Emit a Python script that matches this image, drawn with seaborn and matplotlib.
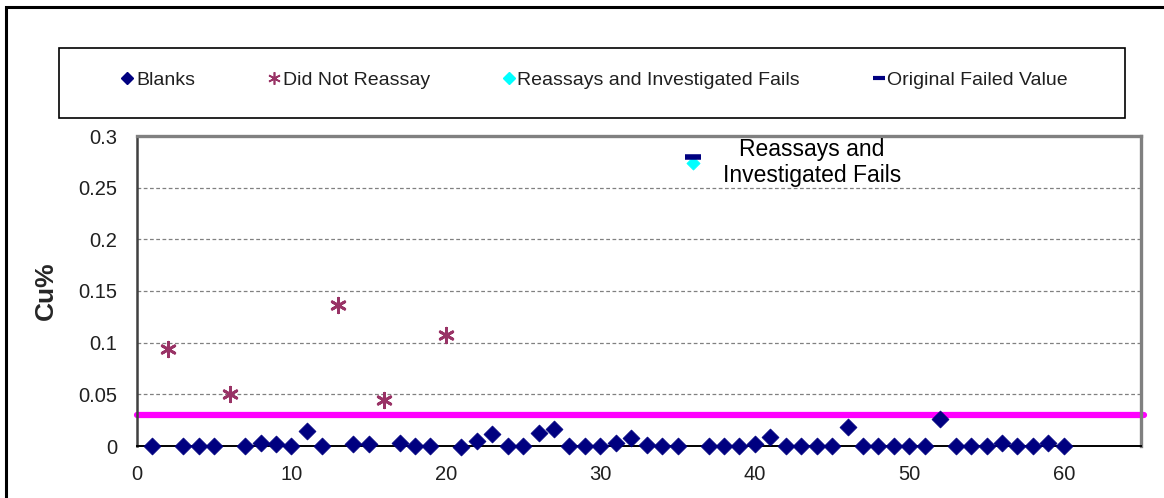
import matplotlib
matplotlib.use("Agg")
import matplotlib.pyplot as plt
from matplotlib.lines import Line2D
from matplotlib.patches import Rectangle
import pandas as pd
import seaborn as sns

# blank sample number vs Cu%
blank_ids = [1, 3, 4, 5, 7, 8, 9, 10, 11, 12, 14, 15, 17, 18, 19, 21, 22, 23, 24, 25,
             26, 27, 28, 29, 30, 31, 32, 33, 34, 35, 37, 38, 39, 40, 41, 42, 43, 44, 45, 46,
             47, 48, 49, 50, 51, 52, 53, 54, 55, 56, 57, 58, 59, 60]
blank_cu = [0, 0, 0, 0, 0, 0.003, 0.002, 0, 0.015, 0, 0.002, 0.002, 0.003, 0, 0, -0.001, 0.005, 0.012, 0, 0,
            0.013, 0.016, 0, 0, 0, 0.003, 0.008, 0.001, 0, 0, 0, 0, 0, 0.002, 0.009, 0, 0, 0, 0, 0.018,
            0, 0, 0, 0, 0, 0.026, 0, 0, 0, 0.003, 0, 0, 0.003, 0]

no_reassay_ids = [2, 6, 13, 16, 20]
no_reassay_cu = [0.094, 0.050, 0.136, 0.045, 0.107]

reassay_ids = [36]
reassay_cu = [0.274]
original_cu = [0.280]

fail_limit = 0.03

x_ticks = [0, 10, 20, 30, 40, 50, 60]
y_ticks = [0, 0.05, 0.1, 0.15, 0.2, 0.25, 0.3]
y_labels = ["0", "0.05", "0.1", "0.15", "0.2", "0.25", "0.3"]

navy = "#000080"
plum = "#993366"
cyan = "#00FFFF"
magenta = "#FF00FF"

sns.set_style("white")
plt.rcParams["font.family"] = ["Liberation Sans", "DejaVu Sans"]

blanks_df = pd.DataFrame({"id": blank_ids, "cu": blank_cu})
nr_df = pd.DataFrame({"id": no_reassay_ids, "cu": no_reassay_cu})
re_df = pd.DataFrame({"id": reassay_ids, "cu": reassay_cu, "orig": original_cu})

fig = plt.figure(figsize=(11.64, 4.98), dpi=100)
ax = fig.add_axes([137 / 1164, 52 / 498, 1004 / 1164, 310 / 498])

# gridlines
for yv in y_ticks[1:-1]:
    ax.axhline(yv, color="#808080", lw=0.9, ls=(0, (3, 2)), zorder=1)

# failure threshold
ax.axhline(fail_limit, xmin=0, xmax=1.003, color=magenta, lw=4.5, zorder=2, clip_on=False)

sns.scatterplot(data=blanks_df, x="id", y="cu", ax=ax, marker="D", s=75,
                color=navy, edgecolor=navy, linewidth=0.5, zorder=4, legend=False)
sns.scatterplot(data=nr_df, x="id", y="cu", ax=ax, marker=(6, 2, 0), s=110,
                color=plum, edgecolor=plum, linewidth=2, zorder=4, legend=False)
sns.scatterplot(data=re_df, x="id", y="cu", ax=ax, marker="D", s=45,
                color=cyan, edgecolor=cyan, zorder=4, legend=False)
sns.scatterplot(data=re_df, x="id", y="orig", ax=ax, marker="_", s=130,
                color=navy, edgecolor=navy, linewidth=4, zorder=5, legend=False)
for coll in ax.collections:
    coll.set_clip_on(False)

ax.text(43.7, 0.2745, "Reassays and\nInvestigated Fails", fontsize=16.5,
        ha="center", va="center", linespacing=1.15, color="black")

ax.set_xlim(0, 65)
ax.set_ylim(0, 0.3)
ax.set_xticks(x_ticks)
ax.set_yticks(y_ticks)
ax.set_yticklabels(y_labels)
ax.tick_params(axis="both", labelsize=14.5, colors="black", direction="out")
ax.tick_params(axis="y", length=6, width=1.2, pad=8, labelcolor="#202020")
ax.tick_params(axis="x", length=5, width=1.2, pad=9, labelcolor="#202020")
ax.set_xlabel("")
ax.set_ylabel("Cu%", fontsize=19, fontweight="bold")
ax.yaxis.set_label_coords(-79 / 1004, 0.5)

ax.spines["left"].set_color("#404040")
ax.spines["left"].set_linewidth(1.8)
ax.spines["bottom"].set_color("black")
ax.spines["bottom"].set_linewidth(1.4)
ax.spines["bottom"].set_zorder(3)
for side in ["top", "right"]:
    ax.spines[side].set_color("#808080")
    ax.spines[side].set_linewidth(2.4)

# legend box
fig.add_artist(Rectangle((59 / 1164, 1 - 118 / 498), 1066 / 1164, 70 / 498,
                         transform=fig.transFigure, fill=False, edgecolor="black", lw=1.2))
handles = [
    Line2D([], [], ls="none", marker="D", ms=6, color=navy),
    Line2D([], [], ls="none", marker=(6, 2, 0), ms=9, mew=1.2, color=plum),
    Line2D([], [], ls="none", marker="D", ms=6, color=cyan),
    Line2D([], [], ls="none", marker="_", ms=9, mew=3, color=navy),
]
labels = ["Blanks", "Did Not Reassay", "Reassays and Investigated Fails", "Original Failed Value"]
fig.legend(handles, labels, loc="center", bbox_to_anchor=(0.511, 1 - 80 / 498), ncol=4,
           frameon=False, fontsize=14, handlelength=0.6, handletextpad=0.15,
           columnspacing=3.75, labelcolor="#202020")

# outer chart frame
fig.add_artist(Rectangle((6 / 1164, -0.05), 1.2, 1 - 7 / 498 + 0.05,
                         transform=fig.transFigure, fill=False, edgecolor="black", lw=2.2))

fig.savefig("out.png", dpi=100)
